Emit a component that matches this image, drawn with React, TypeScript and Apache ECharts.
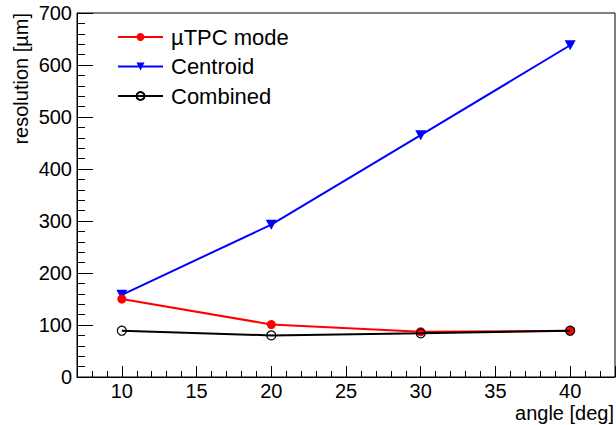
import React, { useEffect, useRef } from "react";
import * as echarts from "echarts";

const angles = [10, 20, 30, 40];
const utpcValues = [150, 101, 87, 89];
const centroidValues = [158, 293, 465, 638];
const combinedValues = [89, 80, 84, 89];
const seriesNames = ["\u00B5TPC mode", "Centroid", "Combined"];
const xTitle = "angle [deg]";
const yTitle = "resolution [\u00B5m]";

const FONT = "'Liberation Sans', Arial, Helvetica, sans-serif";
const TRI_DOWN = "path://M0,0 L10,0 L5,9 Z";

export default function App() {
  const ref = useRef<HTMLDivElement>(null);
  useEffect(() => {
    if (!ref.current) return;
    const chart = echarts.init(ref.current, undefined, { renderer: "svg" });
    const pair = (vals: number[]) => angles.map((a, i) => [a, vals[i]]);
    chart.setOption({
      animation: false,
      backgroundColor: "#ffffff",
      textStyle: { fontFamily: FONT },
      grid: {
        left: 77,
        right: 1,
        top: 13,
        bottom: 48,
        show: true,
        borderColor: "#000",
        borderWidth: 1,
        backgroundColor: "transparent",
      },
      xAxis: {
        type: "value",
        min: 7,
        max: 43,
        splitNumber: 7,
        minInterval: 5,
        maxInterval: 5,
        axisLine: { show: true, onZero: false, lineStyle: { color: "#000", width: 1 } },
        axisTick: { show: true, inside: true, length: 11, lineStyle: { color: "#000" } },
        minorTick: { show: true, splitNumber: 5, length: 6, lineStyle: { color: "#000" } },
        splitLine: { show: false },
        axisLabel: {
          color: "#000",
          fontSize: 20,
          fontFamily: FONT,
          margin: 4,
          showMinLabel: false,
          showMaxLabel: false,
          formatter: (v: number) => (v % 5 === 0 ? String(v) : ""),
        },
      },
      yAxis: {
        type: "value",
        min: 0,
        max: 700,
        interval: 100,
        axisLine: { show: true, lineStyle: { color: "#000", width: 1 } },
        axisTick: { show: true, inside: true, length: 16, lineStyle: { color: "#000" } },
        minorTick: { show: true, splitNumber: 5, length: 8, lineStyle: { color: "#000" } },
        splitLine: { show: false },
        axisLabel: { color: "#000", fontSize: 20, fontFamily: FONT, margin: 5 },
      },
      legend: {
        orient: "vertical",
        left: 117,
        top: 26,
        padding: 0,
        itemWidth: 45,
        itemHeight: 10,
        itemGap: 7.5,
        textStyle: { fontSize: 22, color: "#000", fontFamily: FONT, padding: [0, 0, 0, 3] },
        data: seriesNames,
      },
      series: [
        {
          name: seriesNames[1],
          type: "line",
          data: pair(centroidValues),
          symbol: TRI_DOWN,
          symbolSize: [11, 10],
          lineStyle: { color: "#0000ff", width: 2 },
          itemStyle: { color: "#0000ff" },
          z: 2,
        },
        {
          name: seriesNames[0],
          type: "line",
          data: pair(utpcValues),
          symbol: "circle",
          symbolSize: 9,
          lineStyle: { color: "#ff0000", width: 2 },
          itemStyle: { color: "#ff0000" },
          z: 3,
        },
        {
          name: seriesNames[2],
          type: "line",
          data: pair(combinedValues),
          symbol: "circle",
          symbolSize: 9,
          showAllSymbol: true,
          lineStyle: { color: "#000000", width: 2 },
          itemStyle: { color: "rgba(0,0,0,0)", borderColor: "#000", borderWidth: 1.2 },
          z: 4,
        },
      ],
      graphic: [
        {
          type: "text",
          x: 21,
          y: 13,
          rotation: Math.PI / 2,
          style: { text: yTitle, fontSize: 20, fontFamily: FONT, fill: "#000", align: "right", verticalAlign: "middle" },
        },
        {
          type: "text",
          x: 614,
          y: 413,
          style: { text: xTitle, fontSize: 20, fontFamily: FONT, fill: "#000", align: "right", verticalAlign: "middle" },
        },
      ],
    });
    return () => chart.dispose();
  }, []);
  return <div ref={ref} style={{ position: "fixed", left: 0, top: 0, width: 616, height: 425 }} />;
}
